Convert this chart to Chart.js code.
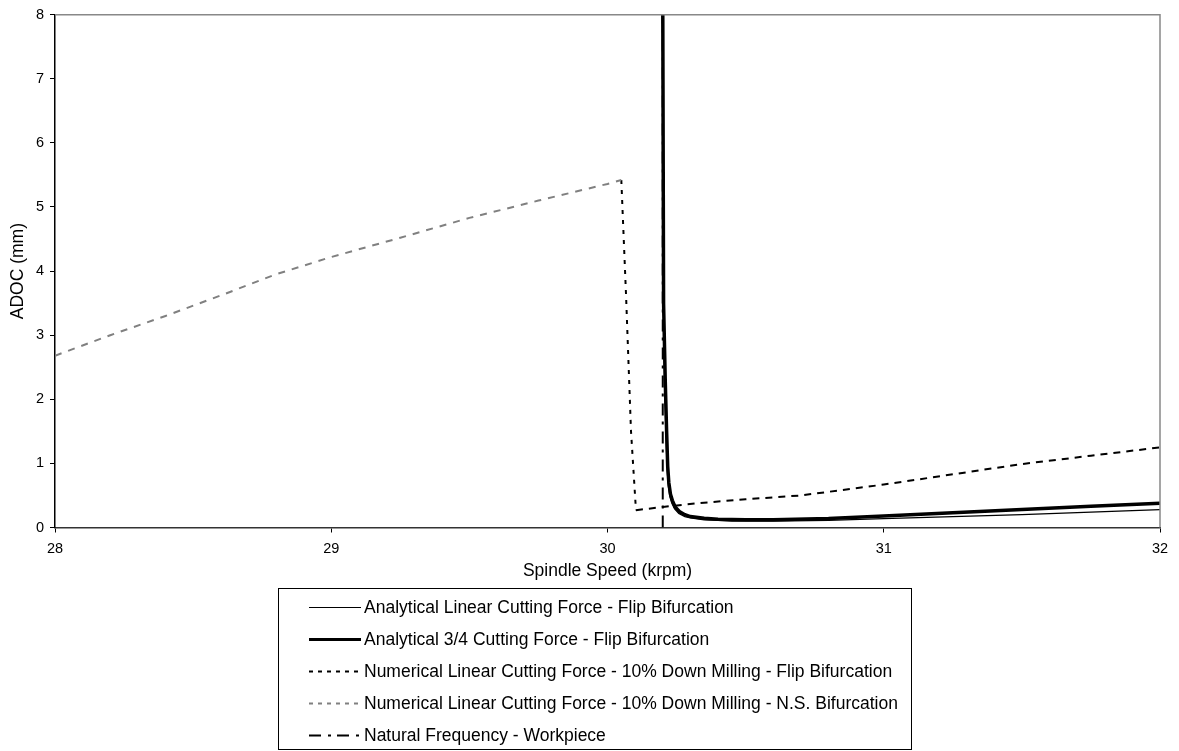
<!DOCTYPE html>
<html>
<head>
<meta charset="utf-8">
<title>ADOC vs Spindle Speed</title>
<script src="https://cdn.jsdelivr.net/npm/chart.js@4.4.1/dist/chart.umd.min.js"></script>
<style>
  html, body { margin: 0; padding: 0; background: #fff; }
  #wrap { width: 1179px; height: 751px; position: relative; }
</style>
</head>
<body>
<div id="wrap"><canvas id="chart" width="1179" height="751"></canvas></div>
<script>
// Spindle speed (krpm) / ADOC (mm) pairs for each stability curve
const linearSpeed = [30.199, 30.202, 30.207, 30.212, 30.216, 30.22, 30.226, 30.233, 30.243, 30.258, 30.28, 30.3, 30.35, 30.4, 30.45, 30.5, 30.6, 30.8, 31.0, 31.25, 31.5, 31.75, 32.0];
const linearAdoc  = [8.3, 3.5, 2.2, 1.4, 0.9, 0.65, 0.48, 0.38, 0.29, 0.22, 0.17, 0.15, 0.12, 0.11, 0.1, 0.1, 0.1, 0.11, 0.14, 0.17, 0.2, 0.24, 0.28];

const threeQuarterSpeed = [30.2, 30.203, 30.209, 30.214, 30.218, 30.222, 30.228, 30.235, 30.245, 30.26, 30.28, 30.3, 30.35, 30.4, 30.45, 30.5, 30.6, 30.8, 31.0, 31.25, 31.5, 31.75, 32.0];
const threeQuarterAdoc  = [8.3, 3.5, 2.3, 1.5, 0.95, 0.7, 0.52, 0.42, 0.32, 0.25, 0.2, 0.17, 0.145, 0.13, 0.125, 0.12, 0.12, 0.14, 0.18, 0.23, 0.28, 0.33, 0.38];

const flipSpeed = [30.05, 30.067, 30.085, 30.103, 30.2, 30.33, 30.5, 30.7, 31.0, 31.25, 31.5, 31.75, 32.0];
const flipAdoc  = [5.42, 3.64, 1.51, 0.27, 0.32, 0.38, 0.44, 0.50, 0.67, 0.83, 0.99, 1.12, 1.25];

const nsSpeed = [28.0, 28.2, 28.4, 28.6, 28.8, 29.0, 29.25, 29.5, 29.75, 30.0, 30.05];
const nsAdoc  = [2.68, 3.0, 3.3, 3.62, 3.95, 4.22, 4.52, 4.83, 5.1, 5.36, 5.42];

const naturalSpeed = [30.2, 30.2];
const naturalAdoc  = [0, 8];

const seriesLabels = [
  'Analytical Linear Cutting Force - Flip Bifurcation',
  'Analytical 3/4 Cutting Force - Flip Bifurcation',
  'Numerical Linear Cutting Force - 10% Down Milling - Flip Bifurcation',
  'Numerical Linear Cutting Force - 10% Down Milling - N.S. Bifurcation',
  'Natural Frequency - Workpiece'
];

const xTicks = [28, 29, 30, 31, 32];
const yTicks = [0, 1, 2, 3, 4, 5, 6, 7, 8];

function pairs(xs, ys) {
  return xs.map((x, i) => ({ x: x, y: ys[i] }));
}

const FONT = "'Liberation Sans', Arial, sans-serif";
Chart.defaults.font.family = FONT;
Chart.defaults.color = '#000';

// Top and right edges of the plot frame
const frameEdges = {
  id: 'frameEdges',
  afterDraw(chart) {
    const { ctx, chartArea: a } = chart;
    ctx.save();
    ctx.strokeStyle = '#888';
    ctx.lineWidth = 1.5;
    ctx.beginPath();
    ctx.moveTo(a.left, a.top);
    ctx.lineTo(a.right, a.top);
    ctx.lineTo(a.right, a.bottom);
    ctx.stroke();
    ctx.restore();
  }
};

// Boxed legend under the axis, one row per dataset
const boxLegend = {
  id: 'boxLegend',
  afterDraw(chart) {
    const ctx = chart.ctx;
    const left = 278, top = 588, right = 911, bottom = 750;
    const rowTop = 607, rowStep = 32;
    ctx.save();
    ctx.strokeStyle = '#000';
    ctx.lineWidth = 1;
    ctx.strokeRect(left + 0.5, top + 0.5, right - left, bottom - top - 1);
    ctx.font = '17.5px ' + FONT;
    ctx.textBaseline = 'middle';
    ctx.fillStyle = '#000';
    chart.data.datasets.forEach((ds, i) => {
      const y = rowTop + i * rowStep;
      ctx.save();
      ctx.strokeStyle = ds.borderColor;
      ctx.lineWidth = ds.legendWidth || ds.borderWidth;
      ctx.setLineDash(ds.legendDash || []);
      ctx.beginPath();
      ctx.moveTo(309, y + 0.5);
      ctx.lineTo(361, y + 0.5);
      ctx.stroke();
      ctx.restore();
      ctx.fillText(ds.label, 364, y + 1);
    });
    ctx.restore();
  }
};

new Chart(document.getElementById('chart'), {
  type: 'line',
  data: {
    datasets: [
      {
        label: seriesLabels[0],
        data: pairs(linearSpeed, linearAdoc),
        borderColor: '#000', borderWidth: 1.3, legendWidth: 1, order: 5
      },
      {
        label: seriesLabels[1],
        data: pairs(threeQuarterSpeed, threeQuarterAdoc),
        borderColor: '#000', borderWidth: 3.5, legendWidth: 3, order: 4
      },
      {
        label: seriesLabels[2],
        data: pairs(flipSpeed, flipAdoc),
        borderColor: '#000', borderWidth: 2, order: 3,
        borderDash: [4, 6], legendDash: [4, 5],
        segment: {
          borderDash: c => (c.p0.parsed.x >= 30.1 ? [7, 6] : [4, 6])
        }
      },
      {
        label: seriesLabels[3],
        data: pairs(nsSpeed, nsAdoc),
        borderColor: '#808080', borderWidth: 2, order: 2,
        borderDash: [7, 7], legendDash: [4, 5]
      },
      {
        label: seriesLabels[4],
        data: pairs(naturalSpeed, naturalAdoc),
        borderColor: '#000', borderWidth: 2, order: 1,
        borderDash: [12, 7, 3, 6], legendDash: [12, 7, 3, 6]
      }
    ]
  },
  options: {
    responsive: false,
    animation: false,
    events: [],
    elements: {
      point: { radius: 0 },
      line: { tension: 0, fill: false }
    },
    layout: { padding: { top: 12, right: 19, bottom: 169, left: 0 } },
    plugins: {
      legend: { display: false },
      tooltip: { enabled: false }
    },
    scales: {
      x: {
        type: 'linear',
        min: 28, max: 32,
        afterFit: s => { s.height = 54.5; },
        afterBuildTicks: s => { s.ticks = xTicks.map(v => ({ value: v })); },
        ticks: { font: { size: 14.5 }, padding: 8, maxRotation: 0 },
        grid: { drawOnChartArea: false, tickLength: 5, color: '#000' },
        border: { color: '#333', width: 1.5 },
        title: {
          display: true, text: 'Spindle Speed (krpm)',
          font: { size: 17.5 }, padding: 0
        }
      },
      y: {
        min: 0, max: 8,
        afterFit: s => { s.width = 55; },
        afterBuildTicks: s => { s.ticks = yTicks.map(v => ({ value: v })); },
        ticks: { font: { size: 14.5 }, padding: 6 },
        grid: { drawOnChartArea: false, tickLength: 5, color: '#000' },
        border: { color: '#000', width: 1.5 },
        title: {
          display: true, text: 'ADOC (mm)',
          font: { size: 17.5 }, padding: { top: 8, bottom: 0 }
        }
      }
    }
  },
  plugins: [frameEdges, boxLegend]
});
</script>
</body>
</html>
